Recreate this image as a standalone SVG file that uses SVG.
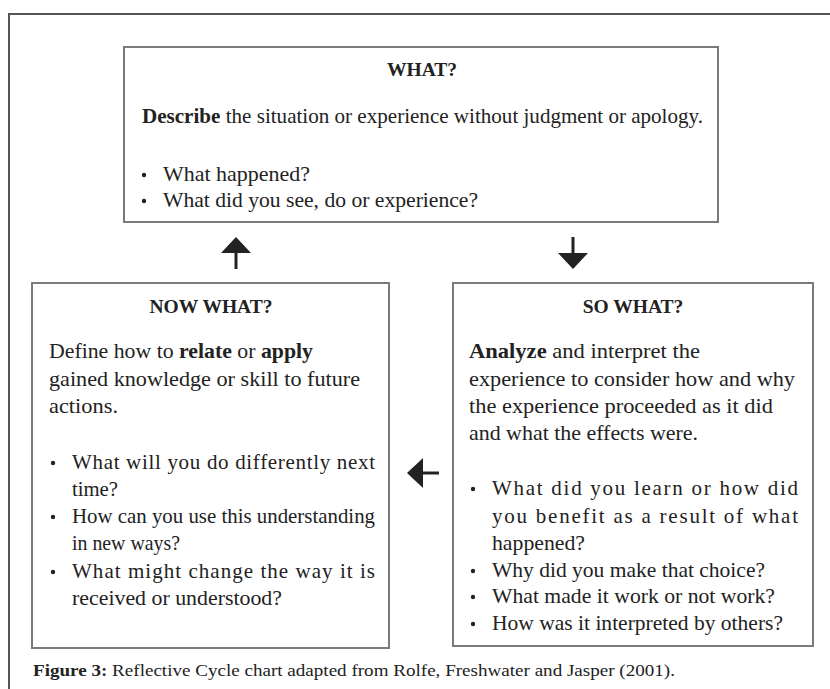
<svg xmlns="http://www.w3.org/2000/svg" width="830" height="689" viewBox="0 0 830 689">
<style>
.box{fill:#fff;stroke:#7a7a7a;stroke-width:2}
.t{font-family:"Liberation Serif","Times New Roman",serif;font-size:21px;fill:#222}
.h{font-family:"Liberation Serif","Times New Roman",serif;font-size:19.5px;font-weight:bold;fill:#222;text-anchor:middle}
.b{font-weight:bold}
.dot{fill:#222}
.con{stroke:#222;stroke-width:3;fill:none}
.cap{font-family:"Liberation Serif","Times New Roman",serif;font-size:17px;fill:#222}
</style>
<defs>
<marker id="ah" viewBox="0 0 16 30" refX="0" refY="15" markerWidth="16" markerHeight="30" markerUnits="userSpaceOnUse" orient="auto">
<path d="M0,0 L16,15 L0,30 Z" fill="#222"/>
</marker>
</defs>
<rect width="830" height="689" fill="#fff"/>
<path d="M9,689 V14 H830" fill="none" stroke="#555" stroke-width="2"/>

<g id="what">
<rect class="box" x="124" y="47" width="594" height="175"/>
<text class="h" x="422" y="76">WHAT?</text>
<text class="t" x="142" y="123" textLength="561" lengthAdjust="spacingAndGlyphs"><tspan class="b">Describe</tspan> the situation or experience without judgment or apology.</text>
<circle class="dot" cx="144" cy="175" r="2.2"/>
<text class="t" x="163" y="181" textLength="147" lengthAdjust="spacingAndGlyphs">What happened?</text>
<circle class="dot" cx="144" cy="201" r="2.2"/>
<text class="t" x="163" y="207" textLength="315" lengthAdjust="spacingAndGlyphs">What did you see, do or experience?</text>
</g>

<g id="now-what">
<rect class="box" x="32" y="283" width="357" height="365"/>
<text class="h" x="211" y="313">NOW WHAT?</text>
<text class="t" x="49" y="358" textLength="264" lengthAdjust="spacingAndGlyphs">Define how to <tspan class="b">relate</tspan> or <tspan class="b">apply</tspan></text>
<text class="t" x="49" y="386" textLength="311" lengthAdjust="spacingAndGlyphs">gained knowledge or skill to future</text>
<text class="t" x="49" y="413" textLength="69" lengthAdjust="spacingAndGlyphs">actions.</text>
<circle class="dot" cx="53" cy="463" r="2.2"/>
<text class="t" x="72" y="469" textLength="303" lengthAdjust="spacing">What will you do differently next</text>
<text class="t" x="72" y="496" textLength="46" lengthAdjust="spacingAndGlyphs">time?</text>
<circle class="dot" cx="53" cy="517" r="2.2"/>
<text class="t" x="72" y="523" textLength="303" lengthAdjust="spacingAndGlyphs">How can you use this understanding</text>
<text class="t" x="72" y="550" textLength="108" lengthAdjust="spacingAndGlyphs">in new ways?</text>
<circle class="dot" cx="53" cy="572" r="2.2"/>
<text class="t" x="72" y="578" textLength="303" lengthAdjust="spacing">What might change the way it is</text>
<text class="t" x="72" y="605" textLength="210" lengthAdjust="spacingAndGlyphs">received or understood?</text>
</g>

<g id="so-what">
<rect class="box" x="453" y="283" width="360" height="363"/>
<text class="h" x="633" y="313">SO WHAT?</text>
<text class="t" x="469" y="358" textLength="231" lengthAdjust="spacingAndGlyphs"><tspan class="b">Analyze</tspan> and interpret the</text>
<text class="t" x="469" y="386" textLength="326" lengthAdjust="spacingAndGlyphs">experience to consider how and why</text>
<text class="t" x="469" y="413" textLength="304" lengthAdjust="spacingAndGlyphs">the experience proceeded as it did</text>
<text class="t" x="469" y="440" textLength="229" lengthAdjust="spacingAndGlyphs">and what the effects were.</text>
<circle class="dot" cx="473" cy="489" r="2.2"/>
<text class="t" x="492" y="495" textLength="306" lengthAdjust="spacing">What did you learn or how did</text>
<text class="t" x="492" y="523" textLength="306" lengthAdjust="spacing">you benefit as a result of what</text>
<text class="t" x="492" y="550" textLength="93" lengthAdjust="spacingAndGlyphs">happened?</text>
<circle class="dot" cx="473" cy="571" r="2.2"/>
<text class="t" x="492" y="577" textLength="273" lengthAdjust="spacingAndGlyphs">Why did you make that choice?</text>
<circle class="dot" cx="473" cy="597" r="2.2"/>
<text class="t" x="492" y="603" textLength="283" lengthAdjust="spacingAndGlyphs">What made it work or not work?</text>
<circle class="dot" cx="473" cy="624" r="2.2"/>
<text class="t" x="492" y="630" textLength="291" lengthAdjust="spacingAndGlyphs">How was it interpreted by others?</text>
</g>

<g id="connectors">
<path class="con" d="M573,237 V253" marker-end="url(#ah)"/>
<path class="con" d="M439,473 H423" marker-end="url(#ah)"/>
<path class="con" d="M236,269 V253" marker-end="url(#ah)"/>
</g>

<text class="cap" x="33" y="676" textLength="642" lengthAdjust="spacingAndGlyphs"><tspan class="b">Figure 3:</tspan>  Reflective Cycle chart adapted from Rolfe, Freshwater and Jasper (2001).</text>
</svg>
